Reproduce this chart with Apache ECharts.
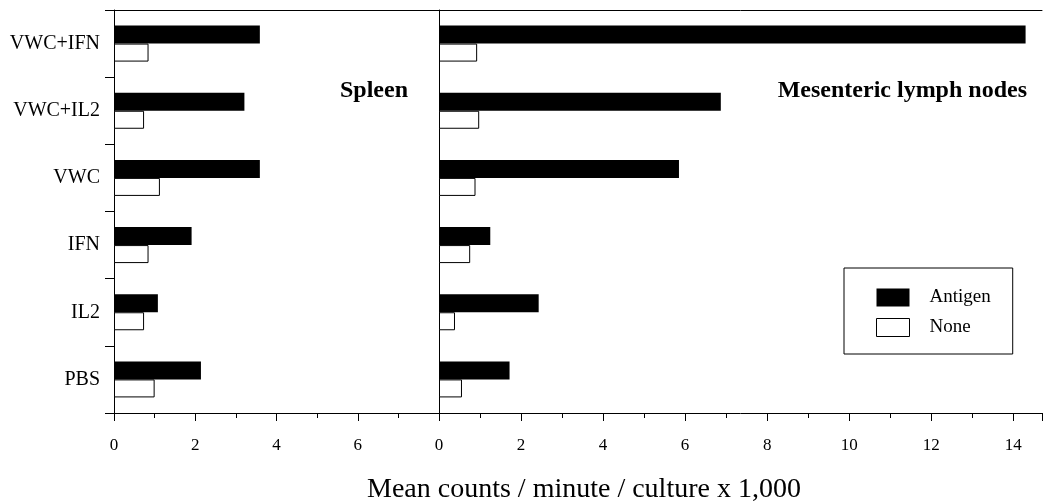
<!DOCTYPE html>
<html>
<head>
<meta charset="utf-8">
<script src="https://cdn.jsdelivr.net/npm/echarts@6/dist/echarts.min.js"></script>
<style>
html,body{margin:0;padding:0;background:#fff;}
#chart{width:1045px;height:503px;}
</style>
</head>
<body>
<div id="chart"></div>
<script>
var categories = ['VWC+IFN', 'VWC+IL2', 'VWC', 'IFN', 'IL2', 'PBS'];
var spleenAntigen = [3.59, 3.21, 3.59, 1.91, 1.08, 2.14];
var spleenNone = [0.85, 0.74, 1.13, 0.85, 0.74, 1.00];
var mlnAntigen = [14.30, 6.87, 5.85, 1.25, 2.43, 1.72];
var mlnNone = [0.93, 0.98, 0.89, 0.76, 0.39, 0.56];
var spleenTicks = [0, 2, 4, 6];
var mlnTicks = [0, 2, 4, 6, 8, 10, 12, 14];
var panelTitles = ['Spleen', 'Mesenteric lymph nodes'];
var axisTitle = 'Mean counts / minute / culture x 1,000';
var seriesNames = ['Antigen', 'None'];

var FONT = "'Liberation Serif', 'Times New Roman', serif";
var black = '#000';

function valueAxis(gi, max, ticks) {
  return {
    type: 'value', gridIndex: gi, min: 0, max: max, interval: 2,
    axisLine: {show: true, onZero: false, lineStyle: {color: black, width: 1}},
    axisTick: {show: true, length: 8, lineStyle: {color: black}},
    minorTick: {show: true, splitNumber: 2, length: 5, lineStyle: {color: black}},
    splitLine: {show: false},
    axisLabel: {
      margin: 24, color: black, fontFamily: FONT, fontSize: 17,
      formatter: function (v) { return ticks.indexOf(v) >= 0 ? String(v) : ''; }
    }
  };
}
function topAxis(gi, max) {
  return {
    type: 'value', gridIndex: gi, min: 0, max: max, position: 'top',
    axisLine: {show: true, onZero: false, lineStyle: {color: black, width: 1}},
    axisTick: {show: false}, axisLabel: {show: false}, splitLine: {show: false}
  };
}

var chart = echarts.init(document.getElementById('chart'));
chart.setOption({
  backgroundColor: '#fff',
  animation: false,
  grid: [
    {left: 114, top: 10, width: 325, bottom: 90},
    {left: 439, top: 10, right: 0, bottom: 90}
  ],
  xAxis: [
    valueAxis(0, 8, spleenTicks),
    valueAxis(1, 14.7, mlnTicks),
    topAxis(0, 8),
    topAxis(1, 14.7)
  ],
  yAxis: [
    {
      type: 'category', gridIndex: 0, data: categories, inverse: true,
      axisLine: {show: true, lineStyle: {color: black, width: 1}},
      axisTick: {show: true, length: 9, lineStyle: {color: black}},
      axisLabel: {margin: 14, color: black, fontFamily: FONT, fontSize: 20}
    },
    {
      type: 'category', gridIndex: 1, data: categories, inverse: true,
      axisLine: {show: true, lineStyle: {color: black, width: 1}},
      axisTick: {show: false}, axisLabel: {show: false}
    }
  ],
  legend: {
    orient: 'vertical', left: 844, top: 268,
    padding: [20, 22, 17, 32], itemGap: 11,
    itemWidth: 33, itemHeight: 18,
    borderColor: black, borderWidth: 1, backgroundColor: '#fff',
    textStyle: {color: black, fontFamily: FONT, fontSize: 19, padding: [0, 0, 0, 15]},
    data: [
      {name: seriesNames[0], icon: 'rect', itemStyle: {color: black}},
      {name: seriesNames[1], icon: 'rect', itemStyle: {color: '#fff', borderColor: black, borderWidth: 1}}
    ]
  },
  series: [
    {name: seriesNames[0], type: 'bar', xAxisIndex: 0, yAxisIndex: 0, data: spleenAntigen,
     barWidth: 18, barGap: '0%', itemStyle: {color: black}},
    {name: seriesNames[1], type: 'bar', xAxisIndex: 0, yAxisIndex: 0, data: spleenNone,
     barWidth: 18, barGap: '0%', itemStyle: {color: '#fff', borderColor: black, borderWidth: 1}},
    {name: seriesNames[0], type: 'bar', xAxisIndex: 1, yAxisIndex: 1, data: mlnAntigen,
     barWidth: 18, barGap: '0%', itemStyle: {color: black}},
    {name: seriesNames[1], type: 'bar', xAxisIndex: 1, yAxisIndex: 1, data: mlnNone,
     barWidth: 18, barGap: '0%', itemStyle: {color: '#fff', borderColor: black, borderWidth: 1}}
  ],
  graphic: [
    {type: 'text', left: 340, top: 79,
     style: {text: panelTitles[0], fill: black, font: 'bold 24px ' + FONT}},
    {type: 'text', right: 18, top: 79,
     style: {text: panelTitles[1], fill: black, font: 'bold 24px ' + FONT}},
    {type: 'text', left: 367, top: 476,
     style: {text: axisTitle, fill: black, font: '28px ' + FONT}}
  ]
});
</script>
</body>
</html>
